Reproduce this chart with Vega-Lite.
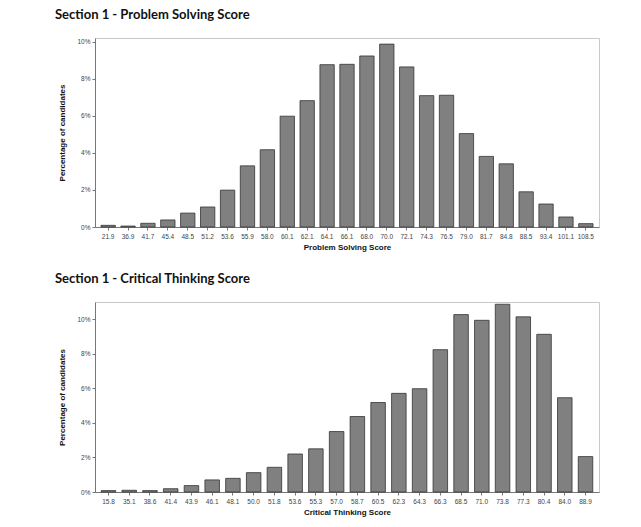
{
  "$schema": "https://vega.github.io/schema/vega-lite/v6.json",
  "padding": {"left": 54, "top": 8, "right": 5, "bottom": 5},
  "background": "white",
  "spacing": 20,
  "config": {
    "view": {"stroke": "#c8c8c8", "strokeWidth": 1},
    "font": "Liberation Sans",
    "title": {"font": "Lato", "fontSize": 13, "fontWeight": "bold", "anchor": "start", "color": "#111", "offset": 16, "dx": -4},
    "axis": {
      "labelFont": "Liberation Sans", "labelFontSize": 6.5, "labelColor": "#444",
      "titleFont": "Liberation Sans", "titleFontSize": 8, "titleFontWeight": "bold", "titleColor": "#111",
      "domainColor": "#777", "tickColor": "#777", "tickSize": 3, "grid": false
    }
  },
  "vconcat": [
    {
      "title": "Section 1 - Problem Solving Score",
      "width": 504,
      "height": 189,
      "data": {"values": [
        {"score": "21.9", "pct": 0.09},
        {"score": "36.9", "pct": 0.05},
        {"score": "41.7", "pct": 0.2},
        {"score": "45.4", "pct": 0.38},
        {"score": "48.5", "pct": 0.75},
        {"score": "51.2", "pct": 1.08},
        {"score": "53.6", "pct": 1.99},
        {"score": "55.9", "pct": 3.3},
        {"score": "58.0", "pct": 4.17},
        {"score": "60.1", "pct": 5.98},
        {"score": "62.1", "pct": 6.82},
        {"score": "64.1", "pct": 8.76},
        {"score": "66.1", "pct": 8.78},
        {"score": "68.0", "pct": 9.23},
        {"score": "70.0", "pct": 9.87},
        {"score": "72.1", "pct": 8.64},
        {"score": "74.3", "pct": 7.09},
        {"score": "76.5", "pct": 7.11},
        {"score": "79.0", "pct": 5.04},
        {"score": "81.7", "pct": 3.81},
        {"score": "84.8", "pct": 3.41},
        {"score": "88.5", "pct": 1.9},
        {"score": "93.4", "pct": 1.24},
        {"score": "101.1", "pct": 0.54},
        {"score": "108.5", "pct": 0.18}
      ]},
      "mark": {"type": "bar", "fill": "#808080", "stroke": "#333333", "strokeWidth": 0.8},
      "encoding": {
        "x": {"field": "score", "type": "ordinal", "sort": null,
              "scale": {"paddingInner": 0.28, "paddingOuter": 0.3},
              "axis": {"title": "Problem Solving Score", "labelAngle": 0, "ticks": true, "labelPadding": 3, "titlePadding": 4}},
        "y": {"field": "pct", "type": "quantitative",
              "scale": {"domain": [0, 10.2], "nice": false},
              "axis": {"title": "Percentage of candidates", "values": [0, 2, 4, 6, 8, 10], "labelExpr": "datum.value + '%'", "titlePadding": 10}}
      }
    },
    {
      "title": "Section 1 - Critical Thinking Score",
      "width": 504,
      "height": 190,
      "data": {"values": [
        {"score": "15.8", "pct": 0.08},
        {"score": "35.1", "pct": 0.1},
        {"score": "38.6", "pct": 0.08},
        {"score": "41.4", "pct": 0.19},
        {"score": "43.9", "pct": 0.37},
        {"score": "46.1", "pct": 0.7},
        {"score": "48.1", "pct": 0.79},
        {"score": "50.0", "pct": 1.12},
        {"score": "51.8", "pct": 1.43},
        {"score": "53.6", "pct": 2.2},
        {"score": "55.3", "pct": 2.5},
        {"score": "57.0", "pct": 3.5},
        {"score": "58.7", "pct": 4.37},
        {"score": "60.5", "pct": 5.18},
        {"score": "62.3", "pct": 5.71},
        {"score": "64.3", "pct": 5.98},
        {"score": "66.3", "pct": 8.24},
        {"score": "68.5", "pct": 10.27},
        {"score": "71.0", "pct": 9.94},
        {"score": "73.8", "pct": 10.87},
        {"score": "77.3", "pct": 10.14},
        {"score": "80.4", "pct": 9.13},
        {"score": "84.0", "pct": 5.46},
        {"score": "88.9", "pct": 2.05}
      ]},
      "mark": {"type": "bar", "fill": "#808080", "stroke": "#333333", "strokeWidth": 0.8},
      "encoding": {
        "x": {"field": "score", "type": "ordinal", "sort": null,
              "scale": {"paddingInner": 0.3, "paddingOuter": 0.3},
              "axis": {"title": "Critical Thinking Score", "labelAngle": 0, "ticks": true, "labelPadding": 3, "titlePadding": 4}},
        "y": {"field": "pct", "type": "quantitative",
              "scale": {"domain": [0, 11], "nice": false},
              "axis": {"title": "Percentage of candidates", "values": [0, 2, 4, 6, 8, 10], "labelExpr": "datum.value + '%'", "titlePadding": 10}}
      }
    }
  ]
}
